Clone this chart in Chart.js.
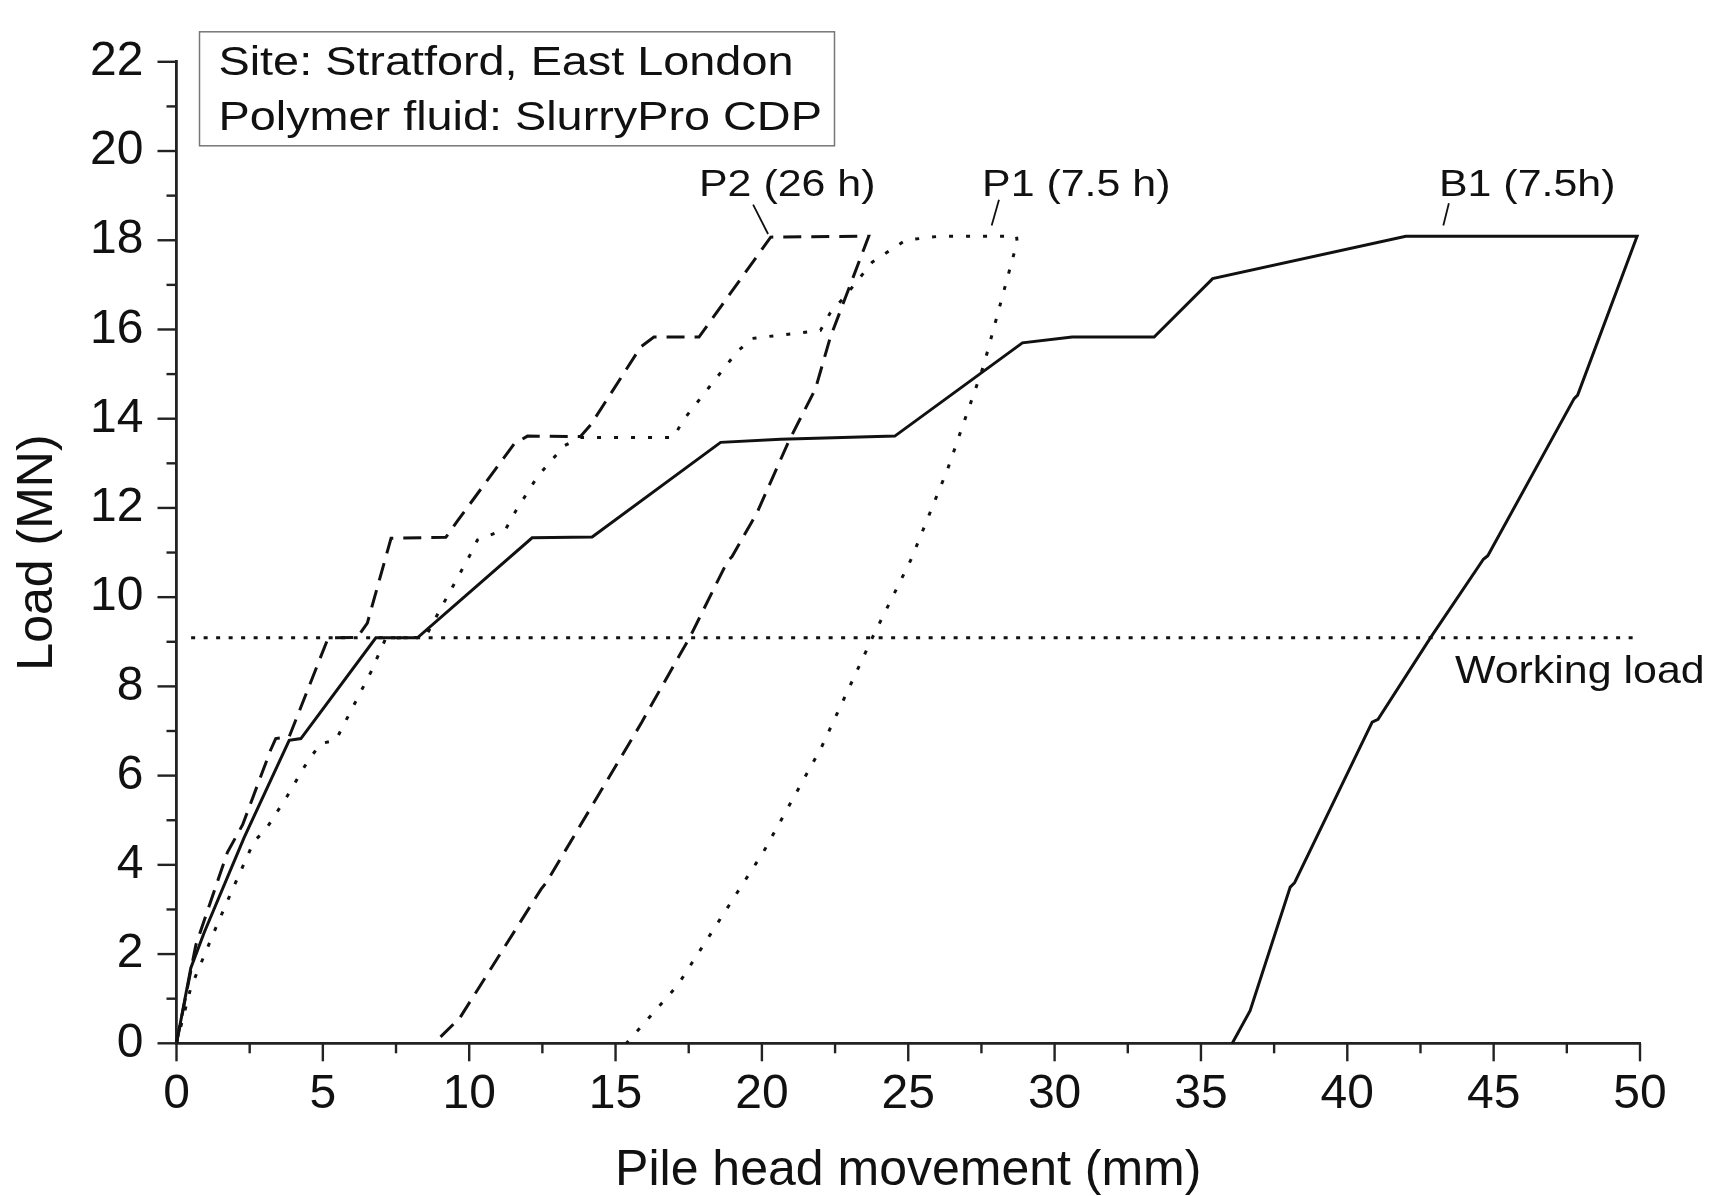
<!DOCTYPE html>
<html>
<head>
<meta charset="utf-8">
<script src="https://cdn.jsdelivr.net/npm/chart.js@4"></script>
<style>
  html, body { margin: 0; padding: 0; background: #fff; }
  canvas { display: block; }
</style>
</head>
<body>
<canvas id="myChart" width="1721" height="1196"></canvas>
<script>
// load-movement curves (x in mm, y in MN)
const b1X = [0, 0.49, 0.95, 2.31, 3.85, 4.25, 6.81, 8.23, 12.15, 14.2, 18.59, 20.64, 24.54, 28.9, 30.6, 33.4, 35.4, 42.0, 49.9,
  47.87, 47.75, 44.8, 44.65, 42.85, 41.05, 40.85, 38.2, 38.05, 36.68, 36.07]
const b1Y = [0, 1.69, 2.49, 4.61, 6.79, 6.83, 9.09, 9.09, 11.33, 11.35, 13.47, 13.54, 13.61, 15.7, 15.83, 15.83, 17.14, 18.09, 18.09,
  14.53, 14.45, 10.93, 10.85, 9.1, 7.26, 7.2, 3.6, 3.5, 0.73, 0]

const p2X = [0, 0.66, 1.74, 2.26, 3.22, 3.39, 3.85, 5.16, 5.27, 6.18, 6.52, 7.33, 9.2, 9.6, 11.53, 11.99, 13.8, 14.15, 15.86, 16.31, 17.85, 20.3, 23.65,
  22.34, 21.83, 21.66, 20.92, 19.84, 18.98, 18.82, 17.56, 16.05, 15.9, 12.63, 12.45, 9.68, 8.8]
const p2Y = [0, 2.2, 4.28, 4.9, 6.58, 6.83, 6.87, 9.05, 9.09, 9.1, 9.42, 11.32, 11.34, 11.71, 13.43, 13.61, 13.6, 13.86, 15.61, 15.83, 15.83, 18.07, 18.09,
  15.83, 14.67, 14.45, 13.5, 11.9, 10.91, 10.8, 9.13, 7.38, 7.2, 3.6, 3.45, 0.57, 0]

const p1X = [0, 0.49, 1.35, 1.86, 2.65, 3.05, 3.79, 4.48, 4.93, 5.44, 5.73, 6.64, 7.15, 8.5, 9.03, 10.0, 10.28, 11.25, 11.59, 12.33, 13.24, 13.8, 16.99,
  17.28, 18.19, 19.15, 19.67, 22.0, 22.34, 22.8, 23.77, 24.9, 26.06, 28.7,
  28.72, 27.58, 26.34, 25.1, 23.78, 22.03, 20.07, 17.13, 15.37]
const p1Y = [0, 1.25, 2.6, 3.37, 4.53, 4.79, 5.55, 6.32, 6.72, 6.79, 7.16, 8.32, 9.08, 9.1, 9.75, 10.91, 11.28, 11.53, 11.93, 12.7, 13.39, 13.58, 13.58,
  13.94, 14.7, 15.5, 15.8, 15.98, 16.38, 16.71, 17.51, 18.0, 18.09, 18.09,
  17.96, 15.2, 12.86, 10.85, 9.1, 6.63, 4.31, 1.31, 0]

const workX = [0.5, 50]
const workY = [9.09, 9.09]

// short leader lines from the curve labels
const leadP2X = [19.7, 20.21]
const leadP2Y = [18.8, 18.14]
const leadP1X = [28.1, 27.85]
const leadP1Y = [18.91, 18.33]
const leadB1X = [43.47, 43.28]
const leadB1Y = [18.83, 18.33]

const curveLabels = ['P2 (26 h)', 'P1 (7.5 h)', 'B1 (7.5h)']
const curveLabelX = [17.85, 27.52, 43.13]
const curveLabelY = [18.99, 18.99, 18.99]

const boxLines = ['Site: Stratford, East London', 'Polymer fluid: SlurryPro CDP']

const xTickMax = 50
const yTickMax = 22

function pts(xs, ys) {
  return xs.map((x, i) => ({ x: x, y: ys[i] }))
}

const FONT = "'Liberation Sans', Arial, sans-serif"
const INK = '#111'

function line(data, dash, width) {
  return {
    data: data,
    borderColor: INK,
    borderWidth: width,
    borderDash: dash,
    pointRadius: 0,
    tension: 0,
    fill: false,
    clip: false
  }
}

function stretchText(ctx, text, x, y, sx) {
  ctx.save()
  ctx.translate(x, y)
  ctx.scale(sx, 1)
  ctx.fillText(text, 0, 0)
  ctx.restore()
}

const extras = {
  id: 'extras',
  afterDraw(chart) {
    const ctx = chart.ctx
    const xs = chart.scales.x
    const ys = chart.scales.y
    const area = chart.chartArea
    ctx.save()
    ctx.strokeStyle = '#222'
    ctx.lineWidth = 2.4
    // y ticks (major every 2, minor every 1), pointing out
    for (let v = 0; v <= yTickMax; v++) {
      const py = ys.getPixelForValue(v)
      const len = v % 2 === 0 ? 19 : 10
      ctx.beginPath()
      ctx.moveTo(area.left - len, py)
      ctx.lineTo(area.left, py)
      ctx.stroke()
    }
    // x ticks (major every 5, minor every 2.5)
    for (let v = 0; v <= xTickMax; v += 2.5) {
      const px = xs.getPixelForValue(v)
      const len = v % 5 === 0 ? 18 : 10
      ctx.beginPath()
      ctx.moveTo(px, area.bottom)
      ctx.lineTo(px, area.bottom + len)
      ctx.stroke()
    }

    // info box top left
    ctx.strokeStyle = '#777'
    ctx.lineWidth = 1.5
    ctx.strokeRect(area.left + 23, area.top - 30, 635, 114)
    ctx.fillStyle = INK
    ctx.font = '40px ' + FONT
    ctx.textBaseline = 'alphabetic'
    ctx.textAlign = 'left'
    stretchText(ctx, boxLines[0], area.left + 42, area.top + 13, 1.17)
    stretchText(ctx, boxLines[1], area.left + 42, area.top + 68, 1.17)

    // curve labels
    ctx.font = '37px ' + FONT
    for (let i = 0; i < curveLabels.length; i++) {
      stretchText(ctx, curveLabels[i], xs.getPixelForValue(curveLabelX[i]), ys.getPixelForValue(curveLabelY[i]), 1.16)
    }
    ctx.font = '39px ' + FONT
    stretchText(ctx, 'Working load', xs.getPixelForValue(43.68), ys.getPixelForValue(8.07), 1.1)
    ctx.restore()
  }
}

const ctx = document.getElementById('myChart')
const myChart = new Chart(ctx, {
  type: 'line',
  data: {
    datasets: [
      line(pts(workX, workY), [4, 8.5], 3),
      line(pts(p1X, p1Y), [4, 13], 3),
      line(pts(p2X, p2Y), [18, 10], 3),
      line(pts(b1X, b1Y), [], 3),
      line(pts(leadP2X, leadP2Y), [], 1.8),
      line(pts(leadP1X, leadP1Y), [], 1.8),
      line(pts(leadB1X, leadB1Y), [], 1.8)
    ]
  },
  options: {
    responsive: false,
    animation: false,
    devicePixelRatio: 1,
    layout: { padding: { left: 0, right: 81, top: 41.7, bottom: 0 } },
    plugins: {
      legend: { display: false },
      tooltip: { enabled: false }
    },
    scales: {
      x: {
        type: 'linear',
        min: 0,
        max: xTickMax,
        afterFit: (s) => { s.height = 152.7 },
        grid: { display: false, drawTicks: false },
        border: { display: true, color: '#222', width: 2.8 },
        ticks: { stepSize: 5, color: INK, padding: 23, maxRotation: 0, font: { family: FONT, size: 48 } },
        title: {
          display: true,
          text: 'Pile head movement (mm)',
          color: INK,
          padding: { top: 0, bottom: 0 },
          font: { family: FONT, size: 50, lineHeight: 1 }
        }
      },
      y: {
        type: 'linear',
        min: 0,
        max: yTickMax,
        afterFit: (s) => { s.width = 176.5 },
        grid: { display: false, drawTicks: false },
        border: { display: true, color: '#222', width: 2.8 },
        ticks: { stepSize: 2, color: INK, padding: 33, font: { family: FONT, size: 48 } },
        title: {
          display: true,
          text: 'Load (MN)',
          color: INK,
          padding: { top: 13, bottom: 0 },
          font: { family: FONT, size: 50, lineHeight: 1 }
        }
      }
    }
  },
  plugins: [extras]
})
</script>
</body>
</html>
